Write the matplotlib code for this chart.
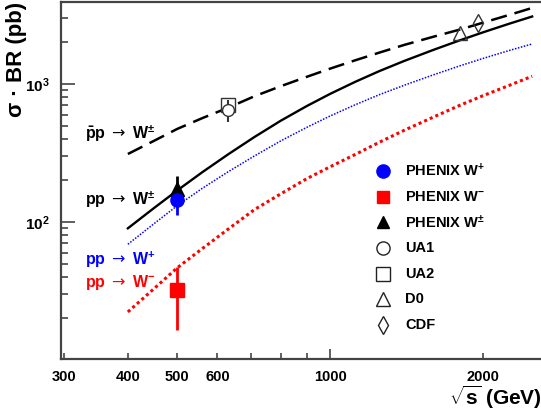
import matplotlib
matplotlib.use("Agg")
import matplotlib.pyplot as plt
from matplotlib.ticker import FixedLocator, NullFormatter, FixedFormatter

plt.rcParams['font.family'] = ['Liberation Sans', 'DejaVu Sans']
plt.rcParams['font.weight'] = 'bold'
plt.rcParams['mathtext.fontset'] = 'custom'
plt.rcParams['mathtext.rm'] = 'Liberation Sans'
plt.rcParams['mathtext.bf'] = 'Liberation Sans:bold'
plt.rcParams['mathtext.it'] = 'Liberation Sans:italic'
plt.rcParams['mathtext.sf'] = 'DejaVu Sans:normal'

# theory curves (sqrt(s) in GeV, sigma*BR in pb)
curve_s = [400, 450, 500, 560, 630, 710, 800, 900, 1000, 1120, 1250, 1400,
           1600, 1800, 2000, 2250, 2500]
ppbar_w = [311, 387, 472, 565, 673, 815, 964, 1127, 1291, 1483, 1687, 1919,
           2203, 2477, 2780, 3162, 3556]
pp_w = [90, 126, 169, 229, 309, 413, 542, 692, 847, 1035, 1239, 1469,
        1770, 2070, 2366, 2729, 3083]
wplus = [69, 97, 131, 175, 231, 301, 387, 485, 586, 706, 836, 979,
         1167, 1352, 1531, 1746, 1950]
wminus = [22.3, 32.8, 46.5, 64.0, 88.7, 123, 160, 206, 251, 308, 378, 462,
          577, 700, 822, 975, 1138]

# measurements
phenix_s = 500
phenix_wp, phenix_wp_err = 144, 31
phenix_wm, phenix_wm_err = 32, 15.5
phenix_wpm, phenix_wpm_err = 172, 43

ua1_s, ua1, ua1_err = 630, 648, 115
ua2_s, ua2 = 630, 704
d0_s, d0 = 1800, 2344
cdf_s, cdf = 1960, 2768

xticks = [300, 400, 500, 600, 1000, 2000]

fig = plt.figure(figsize=(5.41, 4.12), dpi=100)
ax = fig.add_axes([61 / 541, 53 / 412, 482 / 541, 357 / 412])

ax.plot(curve_s, ppbar_w, color='black', lw=1.8, dashes=(6.5, 3.2))
ax.plot(curve_s, pp_w, color='black', lw=1.7)
ax.plot(curve_s, wplus, color='blue', lw=1.1, linestyle=(0, (1, 1)))
ax.plot(curve_s, wminus, color='red', lw=2.2, linestyle=(0, (1, 1)))

ax.errorbar(phenix_s, phenix_wpm, yerr=phenix_wpm_err, fmt='^', color='black',
            ms=10, lw=2, capsize=0)
ax.errorbar(phenix_s, phenix_wp, yerr=phenix_wp_err, fmt='o', color='blue',
            ms=9.5, lw=2, capsize=0)
ax.errorbar(phenix_s, phenix_wm, yerr=phenix_wm_err, fmt='s', color='red',
            ms=9.5, lw=2, capsize=0)

ax.errorbar(ua1_s, ua1, yerr=ua1_err, fmt='o', mfc='white', mec='#333333',
            color='#333333', ms=8.5, mew=1, lw=1.5, capsize=0)
ax.plot(ua2_s, ua2, 's', mfc='none', mec='#333333', ms=9.5, mew=1)
ax.plot(d0_s, d0, '^', mfc='none', mec='#333333', ms=10, mew=1)
ax.plot(cdf_s, cdf, 'd', mfc='none', mec='#333333', ms=9, mew=1)

ax.set_xscale('log')
ax.set_yscale('log')
ax.set_xlim(295.4, 2626)
ax.set_ylim(10.17, 3927)

ax.xaxis.set_major_locator(FixedLocator([1000]))
ax.xaxis.set_minor_locator(FixedLocator([300, 400, 500, 600, 700, 800, 900, 2000]))
ax.xaxis.set_major_formatter(NullFormatter())
ax.xaxis.set_minor_formatter(NullFormatter())
for s in xticks:
    ax.text(s, -0.03, str(s), transform=ax.get_xaxis_transform(),
            ha='center', va='top', fontsize=10.5, fontweight='bold')

ax.yaxis.set_major_locator(FixedLocator([100, 1000]))
ax.yaxis.set_major_formatter(FixedFormatter([r'$\mathbf{10^{2}}$', r'$\mathbf{10^{3}}$']))
ax.yaxis.set_minor_locator(FixedLocator([20, 30, 40, 50, 60, 70, 80, 90,
                                         200, 300, 400, 500, 600, 700, 800, 900,
                                         2000, 3000]))
ax.yaxis.set_minor_formatter(NullFormatter())

ax.tick_params(axis='both', which='both', direction='in', top=False, right=False,
               color='#444444', width=1.2)
ax.tick_params(axis='y', which='major', length=10, pad=8, labelsize=11)
ax.tick_params(axis='y', which='minor', length=5)
ax.tick_params(axis='x', which='major', length=7)
ax.tick_params(axis='x', which='minor', length=4)

for side in ['left', 'bottom', 'top']:
    ax.spines[side].set_color('#444444')
    ax.spines[side].set_linewidth(1.6)
ax.spines['right'].set_visible(False)

ax.set_ylabel('σ · BR (pb)', fontsize=16, fontweight='bold', loc='top')
ax.yaxis.set_label_coords(-0.07, 1.0)
ax.set_xlabel(r'$\sqrt{\mathbf{s}}$ (GeV)', fontsize=15, fontweight='bold', loc='right')
ax.xaxis.set_label_coords(0.998, -0.07)

# curve labels
arrow = r'$\mathsf{\rightarrow}$'
curve_labels = [r'$\mathbf{\bar{p}}$p ' + arrow + r' W$^{\mathbf{\pm}}$',
                'pp ' + arrow + r' W$^{\mathbf{\pm}}$',
                'pp ' + arrow + r' W$^{\mathbf{+}}$',
                'pp ' + arrow + r' W$^{\mathbf{-}}$']
curve_label_colors = ['black', 'black', 'blue', 'red']
curve_label_y = [0.630, 0.445, 0.277, 0.213]
for lab, c, y in zip(curve_labels, curve_label_colors, curve_label_y):
    ax.text(0.05, y, lab, transform=ax.transAxes, fontsize=11.5, color=c,
            va='center', fontweight='bold')

# legend
legend_labels = [r'PHENIX W$^{\mathbf{+}}$', r'PHENIX W$^{\mathbf{-}}$',
                 r'PHENIX W$^{\mathbf{\pm}}$', 'UA1', 'UA2', 'D0', 'CDF']
legend_styles = [dict(marker='o', color='blue', ms=9.5),
                 dict(marker='s', color='red', ms=9),
                 dict(marker='^', color='black', ms=9),
                 dict(marker='o', mfc='none', mec='#222222', ms=9.5, mew=1),
                 dict(marker='s', mfc='none', mec='#222222', ms=9.5, mew=1),
                 dict(marker='^', mfc='none', mec='#222222', ms=10, mew=1),
                 dict(marker='d', mfc='none', mec='#222222', ms=9, mew=1)]
for i, (lab, st) in enumerate(zip(legend_labels, legend_styles)):
    y = 0.527 - i * 0.072
    ax.plot([0.668], [y], transform=ax.transAxes, linestyle='none', clip_on=False, **st)
    ax.text(0.714, y, lab, transform=ax.transAxes, fontsize=10.5,
            fontweight='bold', va='center')

fig.savefig('out.png', dpi=100)
